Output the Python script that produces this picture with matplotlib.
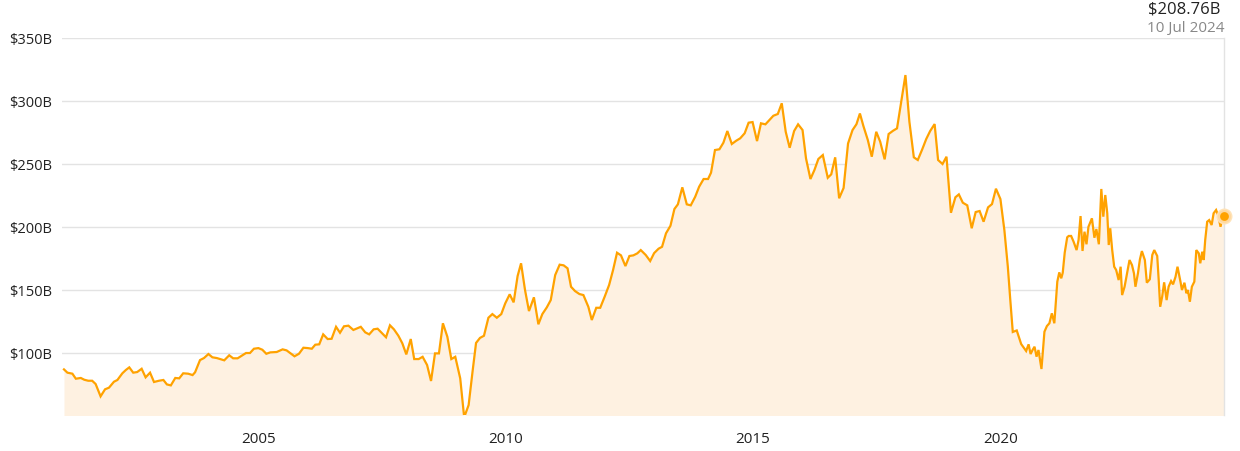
import matplotlib.pyplot as plt
from matplotlib.ticker import FuncFormatter

plt.rcParams['font.family'] = ['Open Sans', 'DejaVu Sans']

# ---- data (decimal year, market value in $B) ----
years = [
    2001.07, 2001.14, 2001.24, 2001.31, 2001.41, 2001.48, 2001.56, 2001.64, 2001.71, 2001.81,
    2001.90, 2001.98, 2002.08, 2002.15, 2002.25, 2002.32, 2002.39, 2002.47, 2002.55, 2002.64,
    2002.72, 2002.81, 2002.89, 2002.99, 2003.08, 2003.15, 2003.23, 2003.32, 2003.40, 2003.48,
    2003.58, 2003.67, 2003.72, 2003.82, 2003.90, 2003.99, 2004.07, 2004.16, 2004.24, 2004.31,
    2004.41, 2004.49, 2004.58, 2004.66, 2004.75, 2004.83, 2004.91, 2005.00, 2005.08, 2005.16,
    2005.24, 2005.37, 2005.49, 2005.57, 2005.66, 2005.73, 2005.82, 2005.91, 2006.00, 2006.08,
    2006.15, 2006.23, 2006.31, 2006.40, 2006.48, 2006.57, 2006.65, 2006.73, 2006.82, 2006.92,
    2007.07, 2007.16, 2007.24, 2007.33, 2007.41, 2007.58, 2007.66, 2007.74, 2007.83, 2007.91,
    2007.99, 2008.08, 2008.15, 2008.24, 2008.32, 2008.41, 2008.49, 2008.57, 2008.65, 2008.73,
    2008.82, 2008.90, 2008.98, 2009.08, 2009.16, 2009.25, 2009.33, 2009.40, 2009.48, 2009.56,
    2009.65, 2009.73, 2009.82, 2009.91, 2009.99, 2010.08, 2010.16, 2010.24, 2010.31, 2010.39,
    2010.47, 2010.57, 2010.66, 2010.74, 2010.83, 2010.91, 2011.00, 2011.09, 2011.17, 2011.25,
    2011.32, 2011.40, 2011.49, 2011.57, 2011.67, 2011.74, 2011.83, 2011.91, 2012.00, 2012.09,
    2012.17, 2012.25, 2012.33, 2012.42, 2012.50, 2012.58, 2012.66, 2012.73, 2012.83, 2012.92,
    2013.00, 2013.09, 2013.16, 2013.24, 2013.33, 2013.41, 2013.48, 2013.57, 2013.66, 2013.74,
    2013.83, 2013.91, 2014.00, 2014.09, 2014.15, 2014.23, 2014.32, 2014.40, 2014.48, 2014.57,
    2014.66, 2014.74, 2014.83, 2014.91, 2014.99, 2015.08, 2015.16, 2015.25, 2015.33, 2015.41,
    2015.50, 2015.58, 2015.66, 2015.74, 2015.83, 2015.91, 2016.00, 2016.07, 2016.16, 2016.24,
    2016.32, 2016.41, 2016.51, 2016.58, 2016.66, 2016.74, 2016.83, 2016.92, 2017.01, 2017.09,
    2017.16, 2017.23, 2017.32, 2017.40, 2017.49, 2017.57, 2017.66, 2017.74, 2017.83, 2017.91,
    2018.00, 2018.08, 2018.16, 2018.25, 2018.33, 2018.42, 2018.50, 2018.58, 2018.67, 2018.74,
    2018.83, 2018.91, 2019.00, 2019.09, 2019.16, 2019.24, 2019.33, 2019.42, 2019.50, 2019.58,
    2019.66, 2019.75, 2019.83, 2019.91, 2020.00, 2020.08, 2020.15, 2020.20, 2020.25, 2020.33,
    2020.42, 2020.52, 2020.57, 2020.61, 2020.65, 2020.69, 2020.73, 2020.77, 2020.83, 2020.89,
    2020.94, 2020.99, 2021.04, 2021.09, 2021.15, 2021.19, 2021.23, 2021.26, 2021.30, 2021.35,
    2021.38, 2021.43, 2021.48, 2021.54, 2021.58, 2021.62, 2021.66, 2021.70, 2021.74, 2021.78,
    2021.85, 2021.90, 2021.94, 2021.99, 2022.04, 2022.08, 2022.12, 2022.16, 2022.19, 2022.22,
    2022.26, 2022.30, 2022.34, 2022.39, 2022.43, 2022.46, 2022.51, 2022.56, 2022.61, 2022.66,
    2022.70, 2022.73, 2022.78, 2022.82, 2022.86, 2022.92, 2022.96, 2023.02, 2023.07, 2023.11,
    2023.17, 2023.20, 2023.23, 2023.27, 2023.31, 2023.36, 2023.40, 2023.45, 2023.49, 2023.54,
    2023.58, 2023.64, 2023.67, 2023.72, 2023.76, 2023.79, 2023.83, 2023.87, 2023.92, 2023.96,
    2024.01, 2024.04, 2024.08, 2024.11, 2024.14, 2024.18, 2024.22, 2024.27, 2024.31, 2024.36,
    2024.40, 2024.45, 2024.49, 2024.52,
]
values = [
    87.0, 84.4, 83.6, 79.6, 80.2, 78.8, 78.0, 78.0, 75.4, 65.6,
    71.2, 72.5, 77.2, 78.6, 83.9, 86.5, 88.6, 84.4, 84.9, 87.5,
    80.7, 84.4, 77.0, 78.0, 78.6, 75.1, 74.3, 80.2, 79.9, 83.9,
    83.6, 82.5, 84.7, 94.4, 96.0, 99.2, 96.6, 96.0, 95.0, 94.2,
    98.2, 95.8, 95.8, 97.8, 100.0, 100.0, 103.4, 103.9, 102.6, 99.4,
    100.5, 100.8, 102.9, 102.1, 99.4, 97.4, 99.4, 104.2, 103.9, 103.4,
    106.6, 106.9, 114.8, 111.1, 111.3, 120.8, 116.1, 121.2, 121.7, 118.3,
    120.8, 116.4, 114.8, 118.8, 119.3, 112.5, 122.0, 118.8, 113.7, 107.7,
    98.9, 111.1, 95.2, 95.2, 97.0, 90.5, 77.8, 99.7, 99.7, 123.6,
    112.9, 95.2, 97.0, 79.9, 49.0, 58.7, 85.5, 108.0, 112.0, 113.7,
    128.0, 130.9, 128.0, 130.9, 139.4, 146.6, 140.2, 161.1, 171.2, 150.0,
    133.3, 144.2, 122.8, 130.9, 136.2, 142.0, 161.9, 170.1, 169.6, 167.2,
    152.6, 149.2, 146.8, 146.0, 136.7, 126.2, 135.9, 135.9, 144.7, 154.0,
    165.9, 179.6, 177.5, 169.0, 177.0, 177.5, 179.1, 181.7, 177.8, 173.0,
    179.3, 182.8, 184.3, 195.0, 201.0, 214.3, 218.0, 231.5, 218.0, 217.2,
    224.0, 232.0, 238.1, 238.1, 243.1, 261.1, 261.7, 266.9, 276.2, 265.9,
    268.5, 270.4, 274.4, 282.8, 283.3, 268.2, 282.3, 281.5, 284.9, 288.3,
    289.7, 298.2, 275.6, 262.9, 276.2, 281.5, 277.0, 254.5, 238.1, 245.2,
    254.0, 257.1, 239.1, 241.8, 255.3, 222.8, 231.0, 266.3, 276.9, 281.6,
    290.1, 280.2, 269.0, 255.8, 275.6, 267.7, 253.7, 273.8, 276.4, 278.3,
    300.8, 320.6, 283.6, 255.3, 253.2, 261.7, 269.8, 276.2, 281.7, 253.2,
    250.0, 255.8, 211.3, 223.6, 225.9, 219.3, 217.2, 199.0, 211.9, 212.7,
    204.2, 215.6, 218.2, 230.4, 222.2, 197.6, 168.5, 142.0, 116.7, 117.9,
    107.1, 101.6, 106.9, 99.2, 102.4, 105.0, 97.1, 102.4, 87.3, 116.9,
    121.4, 123.6, 131.5, 123.6, 156.6, 164.0, 159.3, 163.7, 179.6, 191.8,
    192.9, 192.9, 188.3, 181.7, 189.7, 208.7, 181.0, 196.3, 186.3, 200.2,
    206.9, 191.5, 198.4, 186.3, 230.2, 208.2, 225.4, 210.9, 185.7, 199.0,
    181.7, 168.5, 165.9, 157.9, 168.5, 146.0, 152.6, 163.2, 173.8, 169.8,
    163.2, 152.6, 163.2, 174.3, 180.9, 173.8, 155.8, 158.5, 177.8, 181.7,
    177.0, 157.9, 136.7, 144.7, 156.1, 142.0, 152.6, 157.1, 154.5, 160.5,
    168.5, 156.6, 150.0, 155.8, 147.4, 150.0, 140.7, 152.6, 156.6, 181.7,
    179.1, 171.2, 180.4, 173.8, 189.7, 204.2, 205.5, 201.6, 210.9, 213.5,
    209.5, 200.2, 208.2, 208.76,
]
x_ticks = [2005, 2010, 2015, 2020]
y_ticks = [100, 150, 200, 250, 300, 350]
last_value_label = '$208.76B'
last_date_label = '10 Jul 2024'

LINE = '#FFA200'
FILL = '#FEF1E1'

fig = plt.figure(figsize=(12.4, 4.51), dpi=100)
ax = fig.add_axes([0.05, 0.0798, 0.9371, 0.8359])

ax.fill_between(years, values, 0, color=FILL, linewidth=0)
ax.plot(years, values, color=LINE, linewidth=1.6, solid_joinstyle='miter')

# last point: dot with a light ring round it
ax.scatter([years[-1]], [values[-1]], s=110, color='#FFD9A0', edgecolors='#FFE3B8',
           linewidths=1, zorder=4, clip_on=False)
ax.scatter([years[-1]], [values[-1]], s=40, color=LINE, linewidths=0, zorder=5, clip_on=False)

ax.set_xlim(2001.03, 2024.52)
ax.set_ylim(50.8, 350)
ax.set_xticks(x_ticks)
ax.set_yticks(y_ticks)
ax.yaxis.set_major_formatter(FuncFormatter(lambda v, p: f'${v:.0f}B'))

ax.grid(axis='y', color='#E3E3E3', linewidth=1)
ax.set_axisbelow(True)
for s in ['top', 'left', 'bottom']:
    ax.spines[s].set_visible(False)
ax.spines['right'].set_color('#E3E3E3')
ax.spines['right'].set_linewidth(1)

ax.tick_params(axis='both', length=0, labelcolor='#222222')
ax.tick_params(axis='y', pad=7, labelsize=10.5)
ax.tick_params(axis='x', pad=12, labelsize=11)

fig.text(0.9839, 0.98, last_value_label, ha='right', va='center', fontsize=12, color='#222222')
fig.text(0.9871, 0.937, last_date_label, ha='right', va='center', fontsize=11, color='#888888')

fig.savefig('out.png', dpi=100)
